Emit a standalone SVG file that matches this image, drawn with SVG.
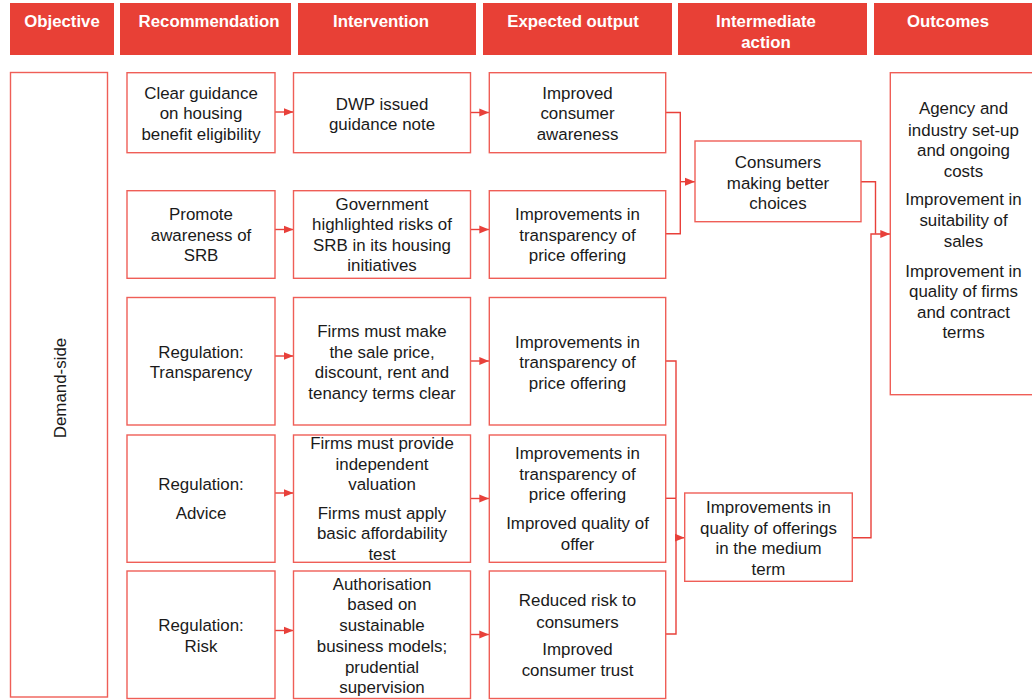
<svg xmlns="http://www.w3.org/2000/svg" width="1032" height="700" viewBox="0 0 1032 700">
<style>
.hdr{fill:#E84036}
.ht{font-family:"Liberation Sans",Arial,sans-serif;font-size:16.8px;font-weight:bold;fill:#fff;text-anchor:middle}
.box{fill:#fff;stroke:#EF5E57;stroke-width:1.4}
.t{font-family:"Liberation Sans",Arial,sans-serif;font-size:16.9px;fill:#1a1a1a;text-anchor:middle}
.c{fill:none;stroke:#E8403A;stroke-width:1.4}
</style>
<defs>
<marker id="ah" viewBox="0 0 10 8" refX="10" refY="4" markerWidth="10" markerHeight="8.5" markerUnits="userSpaceOnUse" orient="auto">
<path d="M0,0 L10,4 L0,8 z" fill="#E8403A"/>
</marker>
</defs>
<rect width="1032" height="700" fill="#fff"/>
<g id="headers">
<g id="h-objective"><rect class="hdr" x="10" y="3" width="104" height="52"/><text class="ht" x="62" y="27">Objective</text></g>
<g id="h-recommendation"><rect class="hdr" x="120" y="3" width="171" height="52"/><text class="ht" x="209" y="27">Recommendation</text></g>
<g id="h-intervention"><rect class="hdr" x="298" y="3" width="178" height="52"/><text class="ht" x="381" y="27">Intervention</text></g>
<g id="h-expected"><rect class="hdr" x="483" y="3" width="189" height="52"/><text class="ht" x="573" y="27">Expected output</text></g>
<g id="h-intermediate"><rect class="hdr" x="678" y="3" width="189" height="52"/><text class="ht" x="766" y="27">Intermediate</text><text class="ht" x="766" y="48">action</text></g>
<g id="h-outcomes"><rect class="hdr" x="874" y="3" width="158" height="52"/><text class="ht" x="948" y="27">Outcomes</text></g>
</g>
<g id="connectors">
<line class="c" x1="275" y1="112" x2="293.5" y2="112" marker-end="url(#ah)"/>
<line class="c" x1="275" y1="229.5" x2="293.5" y2="229.5" marker-end="url(#ah)"/>
<line class="c" x1="275" y1="356" x2="293.5" y2="356" marker-end="url(#ah)"/>
<line class="c" x1="275" y1="493" x2="293.5" y2="493" marker-end="url(#ah)"/>
<line class="c" x1="275" y1="630.5" x2="293.5" y2="630.5" marker-end="url(#ah)"/>
<line class="c" x1="470.5" y1="112.5" x2="489.3" y2="112.5" marker-end="url(#ah)"/>
<line class="c" x1="470.5" y1="229.5" x2="489.3" y2="229.5" marker-end="url(#ah)"/>
<line class="c" x1="470.5" y1="361" x2="489.3" y2="361" marker-end="url(#ah)"/>
<line class="c" x1="470.5" y1="498.5" x2="489.3" y2="498.5" marker-end="url(#ah)"/>
<line class="c" x1="470.5" y1="634.5" x2="489.3" y2="634.5" marker-end="url(#ah)"/>
<polyline class="c" points="665.7,112.5 680.3,112.5 680.3,233.7 665.7,233.7"/>
<line class="c" x1="680.3" y1="181.7" x2="695" y2="181.7" marker-end="url(#ah)"/>
<polyline class="c" points="861,181.7 875.5,181.7 875.5,233.7"/>
<polyline class="c" points="852.3,537.7 871,537.7 871,234 890.3,234" marker-end="url(#ah)"/>
<polyline class="c" points="665.7,361 676,361 676,498.3"/>
<line class="c" x1="665.7" y1="498.3" x2="676" y2="498.3"/>
<polyline class="c" points="665.7,634 676,634 676,498.3"/>
<line class="c" x1="676" y1="537.7" x2="684.7" y2="537.7" marker-end="url(#ah)"/>
</g>
<g id="objective">
<rect class="box" x="10.5" y="72.5" width="97" height="624.5"/>
<text class="t" transform="translate(66,388) rotate(-90)">Demand-side</text>
</g>
<g id="rec1"><rect class="box" x="127" y="72.7" width="148" height="80"/>
<text class="t" x="201" y="98.5">Clear guidance</text><text class="t" x="201" y="119">on housing</text><text class="t" x="201" y="140">benefit eligibility</text></g>
<g id="rec2"><rect class="box" x="127" y="190.7" width="148" height="87.6"/>
<text class="t" x="201" y="220">Promote</text><text class="t" x="201" y="240.5">awareness of</text><text class="t" x="201" y="260.5">SRB</text></g>
<g id="rec3"><rect class="box" x="127" y="297.5" width="148" height="127.5"/>
<text class="t" x="201" y="357.5">Regulation:</text><text class="t" x="201" y="378">Transparency</text></g>
<g id="rec4"><rect class="box" x="127" y="435" width="148" height="127.3"/>
<text class="t" x="201" y="490">Regulation:</text><text class="t" x="201" y="519">Advice</text></g>
<g id="rec5"><rect class="box" x="127" y="571" width="148" height="127.5"/>
<text class="t" x="201" y="631">Regulation:</text><text class="t" x="201" y="652">Risk</text></g>
<g id="int1"><rect class="box" x="293.5" y="72.7" width="177" height="80"/>
<text class="t" x="382" y="109.5">DWP issued</text><text class="t" x="382" y="130">guidance note</text></g>
<g id="int2"><rect class="box" x="293.5" y="190.7" width="177" height="87.6"/>
<text class="t" x="382" y="209.5">Government</text><text class="t" x="382" y="230">highlighted risks of</text><text class="t" x="382" y="251">SRB in its housing</text><text class="t" x="382" y="271">initiatives</text></g>
<g id="int3"><rect class="box" x="293.5" y="297.5" width="177" height="127.5"/>
<text class="t" x="382" y="336.5">Firms must make</text><text class="t" x="382" y="357.5">the sale price,</text><text class="t" x="382" y="378">discount, rent and</text><text class="t" x="382" y="399">tenancy terms clear</text></g>
<g id="int4"><rect class="box" x="293.5" y="435" width="177" height="127.3"/>
<text class="t" x="382" y="449">Firms must provide</text><text class="t" x="382" y="469.5">independent</text><text class="t" x="382" y="490">valuation</text><text class="t" x="382" y="519">Firms must apply</text><text class="t" x="382" y="539">basic affordability</text><text class="t" x="382" y="560">test</text></g>
<g id="int5"><rect class="box" x="293.5" y="571" width="177" height="127.5"/>
<text class="t" x="382" y="590">Authorisation</text><text class="t" x="382" y="610">based on</text><text class="t" x="382" y="631">sustainable</text><text class="t" x="382" y="652">business models;</text><text class="t" x="382" y="672.5">prudential</text><text class="t" x="382" y="693">supervision</text></g>
<g id="exp1"><rect class="box" x="489.3" y="72.7" width="176.4" height="80"/>
<text class="t" x="577.5" y="98.5">Improved</text><text class="t" x="577.5" y="119">consumer</text><text class="t" x="577.5" y="140">awareness</text></g>
<g id="exp2"><rect class="box" x="489.3" y="190.7" width="176.4" height="87.6"/>
<text class="t" x="577.5" y="220">Improvements in</text><text class="t" x="577.5" y="240.5">transparency of</text><text class="t" x="577.5" y="261">price offering</text></g>
<g id="exp3"><rect class="box" x="489.3" y="297.5" width="176.4" height="127.5"/>
<text class="t" x="577.5" y="347.5">Improvements in</text><text class="t" x="577.5" y="367.5">transparency of</text><text class="t" x="577.5" y="388.5">price offering</text></g>
<g id="exp4"><rect class="box" x="489.3" y="435" width="176.4" height="127.3"/>
<text class="t" x="577.5" y="459">Improvements in</text><text class="t" x="577.5" y="480">transparency of</text><text class="t" x="577.5" y="500">price offering</text><text class="t" x="577.5" y="529">Improved quality of</text><text class="t" x="577.5" y="550">offer</text></g>
<g id="exp5"><rect class="box" x="489.3" y="571" width="176.4" height="127.5"/>
<text class="t" x="577.5" y="606">Reduced risk to</text><text class="t" x="577.5" y="627.5">consumers</text><text class="t" x="577.5" y="655">Improved</text><text class="t" x="577.5" y="676">consumer trust</text></g>
<g id="intermediate1"><rect class="box" x="695" y="141" width="166" height="80.7"/>
<text class="t" x="778" y="167.5">Consumers</text><text class="t" x="778" y="188.5">making better</text><text class="t" x="778" y="208.5">choices</text></g>
<g id="intermediate2"><rect class="box" x="684.7" y="493" width="167.6" height="88.3"/>
<text class="t" x="768.5" y="513">Improvements in</text><text class="t" x="768.5" y="533.5">quality of offerings</text><text class="t" x="768.5" y="554">in the medium</text><text class="t" x="768.5" y="575">term</text></g>
<g id="outcomes"><rect class="box" x="890.3" y="72.7" width="150" height="322"/>
<text class="t" x="963.5" y="114">Agency and</text><text class="t" x="963.5" y="135.5">industry set-up</text><text class="t" x="963.5" y="156">and ongoing</text><text class="t" x="963.5" y="176.5">costs</text>
<text class="t" x="963.5" y="205">Improvement in</text><text class="t" x="963.5" y="226">suitability of</text><text class="t" x="963.5" y="246.5">sales</text>
<text class="t" x="963.5" y="276.5">Improvement in</text><text class="t" x="963.5" y="297">quality of firms</text><text class="t" x="963.5" y="317.5">and contract</text><text class="t" x="963.5" y="338">terms</text></g>
</svg>
